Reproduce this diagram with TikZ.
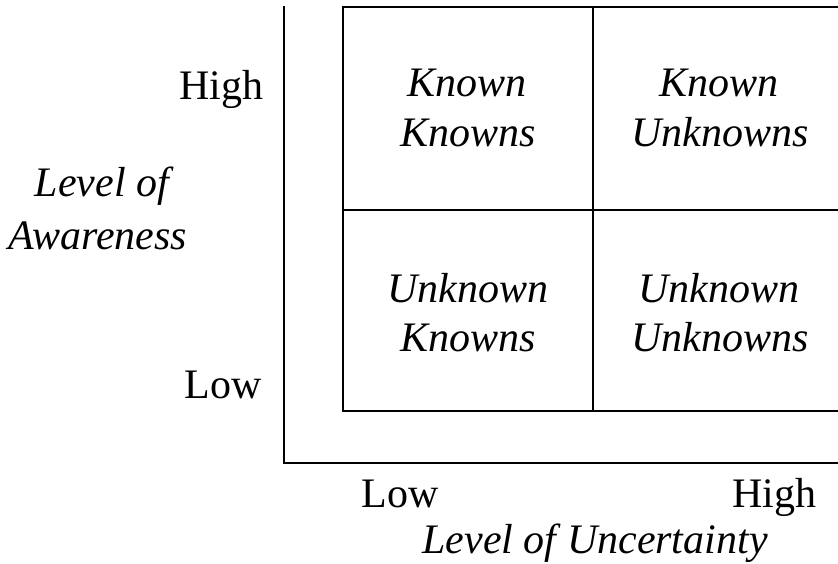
\documentclass[tikz,border=0pt]{standalone}
\usepackage{fontspec}
\setmainfont{Liberation Serif}
\begin{document}
\begin{tikzpicture}[x=1pt,y=-1pt,
  lbl/.style={inner sep=0pt,anchor=base,font=\fontsize{42}{50}\selectfont},
  itl/.style={lbl,font=\fontsize{42}{50}\selectfont\itshape},
  rule/.style={line width=2pt}]
\useasboundingbox (0,0) rectangle (838,564);
% axes
\coordinate (ytop) at (284,6);
\coordinate (origin) at (284,463);
\coordinate (xend) at (838,463);
\draw[rule] (ytop) -- (origin) -- (xend);
% quadrant grid (open to the right)
\coordinate (gtl) at (343,7);
\coordinate (gbl) at (343,411);
\draw[rule] (840,7) -- (gtl) -- (gbl) -- (840,411);
\draw[rule] (593,7) -- (593,411);
\draw[rule] (343,210) -- (840,210);
% quadrant labels
\node[itl] (kk1) at (467,97) {Known};
\node[itl] (kk2) at (468,147) {Knowns};
\node[itl] (ku1) at (719,97) {Known};
\node[itl] (ku2) at (720,147) {Unknowns};
\node[itl] (uk1) at (468,302) {Unknown};
\node[itl] (uk2) at (468,351) {Knowns};
\node[itl] (uu1) at (719,302) {Unknown};
\node[itl] (uu2) at (720,351) {Unknowns};
% vertical axis
\node[lbl] (yhigh) at (221,100) {High};
\node[lbl] (ylow) at (223,398) {Low};
\node[itl] (ya1) at (102,197) {Level of};
\node[itl] (ya2) at (98,250) {Awareness};
% horizontal axis
\node[lbl] (xlow) at (400,507) {Low};
\node[lbl] (xhigh) at (774,507) {High};
\node[itl] (xa) at (595,553) {Level of Uncertainty};
\end{tikzpicture}
\end{document}
